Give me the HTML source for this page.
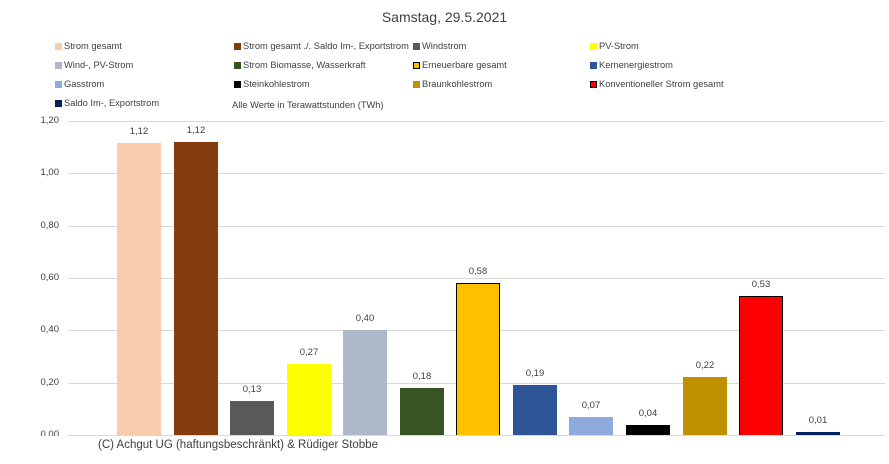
<!DOCTYPE html><html><head><meta charset="utf-8"><style>
body{margin:0;width:889px;height:464px;background:#fff;position:relative;overflow:hidden;font-family:"Liberation Sans",sans-serif;color:#404040}
.a{position:absolute}
.t{font-size:9.3px;white-space:nowrap}
.sq{position:absolute;width:7px;height:7px}
.g{position:absolute;left:68px;width:817px;height:1px;background:#d9d9d9}
.yl{position:absolute;left:34px;font-size:9.5px;width:25px;text-align:right}
.b{position:absolute;width:44px;bottom:29px}
.v{position:absolute;width:44px;text-align:center;font-size:9.5px}
</style></head><body>
<div class="a" style="left:0;width:889px;top:9px;text-align:center;font-size:14px">Samstag, 29.5.2021</div>
<div id="leg"></div>
<div id="ch"></div>
<div class="a" style="left:98px;top:439px;font-size:11.5px;color:#404040">(C) Achgut UG (haftungsbeschränkt) &amp; Rüdiger Stobbe</div>
<script>
var L=[["Strom gesamt","#f8cbad",0,0],["Strom gesamt ./. Saldo Im-, Exportstrom","#843c0c",1,0],["Windstrom","#595959",2,0],["PV-Strom","#ffff00",3,0],
["Wind-, PV-Strom","#adb9ca",0,1],["Strom Biomasse, Wasserkraft","#375623",1,1],["Erneuerbare gesamt","#ffc000",2,1],["Kernenergiestrom","#2f5597",3,1],
["Gasstrom","#8faadc",0,2],["Steinkohlestrom","#000000",1,2],["Braunkohlestrom","#bf9000",2,2],["Konventioneller Strom gesamt","#ff0000",3,2],["Saldo Im-, Exportstrom","#002060",0,3]];
var cx=[55,234,413,590],h="";
L.forEach(function(l){var y=43+l[3]*19;var bd=(l[0]=="Erneuerbare gesamt"||l[0]=="Konventioneller Strom gesamt")?"box-sizing:border-box;border:1px solid #000;":"";
h+='<div class="sq" style="left:'+cx[l[2]]+'px;top:'+(y)+'px;background:'+l[1]+';'+bd+'"></div><div class="a t" style="left:'+(cx[l[2]]+9)+'px;top:'+(y-2)+'px">'+l[0]+'</div>';});
h+='<div class="a t" style="left:232px;top:100px">Alle Werte in Terawattstunden (TWh)</div>';
document.getElementById('leg').innerHTML=h;
var c="",z=435,k=261.7;
["0,00","0,20","0,40","0,60","0,80","1,00","1,20"].forEach(function(s,i){var y=z-i*0.2*k;c+='<div class="g" style="top:'+Math.round(y)+'px"></div><div class="yl" style="top:'+Math.round(y-6)+'px">'+s+'</div>';});
var V=[1.115,1.12,0.13,0.27,0.40,0.18,0.58,0.19,0.07,0.04,0.22,0.53,0.01],S=["1,12","1,12","0,13","0,27","0,40","0,18","0,58","0,19","0,07","0,04","0,22","0,53","0,01"];
V.forEach(function(v,i){var x=Math.round(117+i*56.55),hh=Math.round(v*k);var bd=(i==6||i==11)?"box-sizing:border-box;border:1px solid #000;border-bottom:none;":"";
c+='<div class="b" style="left:'+x+'px;height:'+hh+'px;background:'+L[i][1]+';'+bd+'"></div><div class="v" style="left:'+x+'px;top:'+(z-hh-17)+'px">'+S[i]+'</div>';});
c+='<div class="a" style="left:0;top:436px;width:889px;height:28px;background:#fff"></div>';
document.getElementById('ch').innerHTML=c;
</script>
</body></html>
